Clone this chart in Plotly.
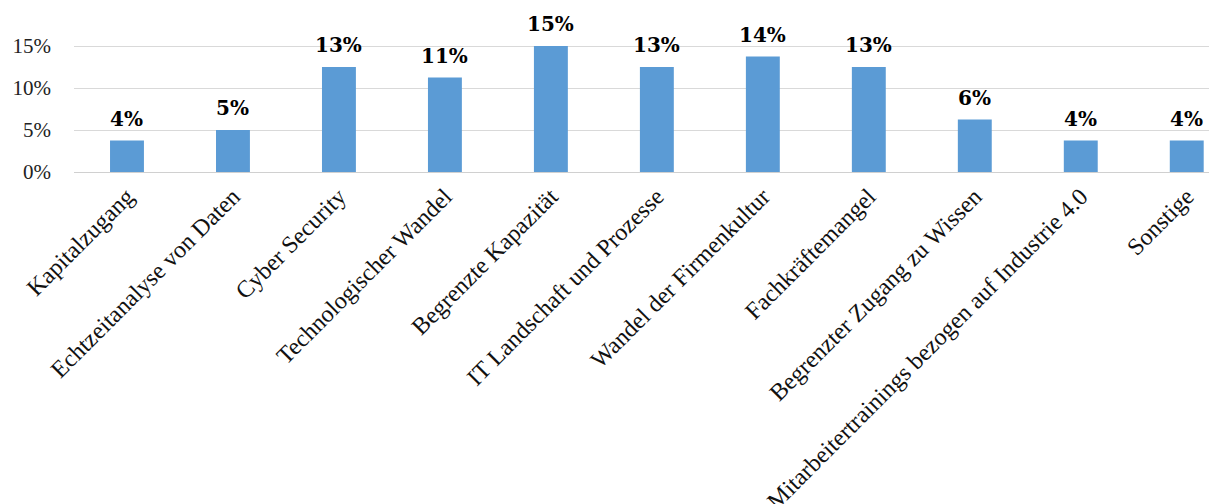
import plotly.graph_objects as go

categories = ["Kapitalzugang", "Echtzeitanalyse von Daten", "Cyber Security",
              "Technologischer Wandel", "Begrenzte Kapazität", "IT Landschaft und Prozesse",
              "Wandel der Firmenkultur", "Fachkräftemangel", "Begrenzter Zugang zu Wissen",
              "Mitarbeitertrainings bezogen auf Industrie 4.0", "Sonstige"]
values = [3.75, 5.0, 12.5, 11.25, 15.0, 12.5, 13.75, 12.5, 6.25, 3.75, 3.75]
labels = [f"{int(v + 0.5)}%" for v in values]
y_ticks = [0, 5, 10, 15]
y_tick_text = ["0%", "5%", "10%", "15%"]

SERIF = "Liberation Serif, Times New Roman, serif"
BOLD_SERIF = "DejaVu Serif, serif"

fig = go.Figure(go.Bar(
    x=categories, y=values,
    marker=dict(color="#5b9bd5", line=dict(width=0)),
    width=0.32, hoverinfo="x+y",
))
for c, v, t in zip(categories, values, labels):
    fig.add_annotation(x=c, y=v, text=f"<b>{t}</b>", showarrow=False,
                       yanchor="bottom", yshift=8,
                       font=dict(family=BOLD_SERIF, size=20, color="black"))
fig.update_layout(
    width=1209, height=504,
    margin=dict(l=74, r=0, t=0, b=332),
    plot_bgcolor="white", paper_bgcolor="white",
    font=dict(family=SERIF, size=20, color="#222"),
    showlegend=False,
)
fig.update_xaxes(range=[-0.5, 10.21], tickangle=-45, showgrid=False, automargin=False,
                 showline=True, linecolor="#d0d0d0", linewidth=1, ticks="",
                 tickfont=dict(family=SERIF, size=24, color="#111"))
fig.update_yaxes(range=[0, 20.476], tickvals=y_ticks, ticktext=y_tick_text,
                 showgrid=True, gridcolor="#d9d9d9", gridwidth=1, automargin=False,
                 zeroline=False, tickfont=dict(family=SERIF, size=21, color="#222"),
                 ticks="", ticklabelstandoff=22)
fig.write_html("out.html")
